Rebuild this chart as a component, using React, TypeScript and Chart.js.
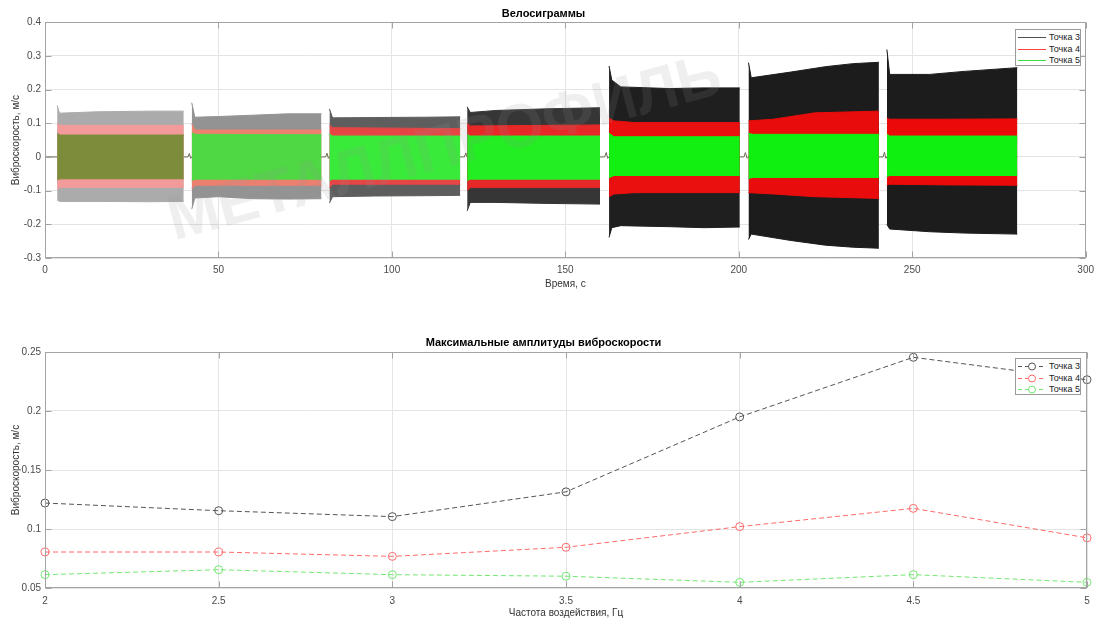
import React, { useEffect, useRef } from "react";
import { Chart, registerables } from "chart.js";

Chart.register(...registerables);

const FONT = "'Liberation Sans', Arial, Helvetica, sans-serif";
const GRID = "#e4e4e4";
const FRAME = "#a3a3a3";
const TICK_COLOR = "#4a4a4a";

// ---------- texts ----------
const TOP_TITLE = "Велосиграммы";
const TOP_X_TITLE = "Время, с";
const Y_TITLE = "Виброскорость, м/с";
const BOTTOM_TITLE = "Максимальные амплитуды виброскорости";
const BOTTOM_X_TITLE = "Частота воздействия, Гц";
const SERIES_NAMES = ["Точка 3", "Точка 4", "Точка 5"];
const WATERMARK = "МЕТАЛЛПРОФИЛЬ";

// ---------- top chart: envelopes of the velocigram per run, rows [t, upper, lower] ----------
const tochka3Envelope: number[][][] = [
  [[3.5, 0.153, -0.128], [4.2, 0.13, -0.132], [15, 0.134, -0.132], [30, 0.136, -0.133], [40.0, 0.136, -0.132]],
  [[42.3, 0.161, -0.155], [43.2, 0.118, -0.122], [50, 0.12, -0.118], [60, 0.124, -0.124], [70, 0.128, -0.125], [79.7, 0.128, -0.124]],
  [[82.0, 0.143, -0.137], [82.9, 0.116, -0.118], [95, 0.117, -0.116], [110, 0.118, -0.115], [119.7, 0.119, -0.114]],
  [[121.7, 0.149, -0.16], [122.6, 0.132, -0.135], [130, 0.138, -0.135], [145, 0.143, -0.138], [160.0, 0.146, -0.14]],
  [[162.6, 0.27, -0.239], [163.4, 0.228, -0.21], [166, 0.208, -0.204], [180, 0.203, -0.207], [190, 0.205, -0.21], [200.3, 0.205, -0.208]],
  [[202.8, 0.28, -0.245], [203.6, 0.235, -0.229], [215, 0.252, -0.248], [225, 0.268, -0.262], [233, 0.277, -0.268], [240.4, 0.281, -0.271]],
  [[242.7, 0.319, -0.2], [243.5, 0.245, -0.214], [255, 0.245, -0.222], [265, 0.254, -0.226], [280.3, 0.265, -0.229]],
];
const tochka4Envelope: number[][][] = [
  [[3.5, 0.1, -0.096], [4.3, 0.094, -0.09], [40.0, 0.094, -0.09]],
  [[42.3, 0.098, -0.095], [43.2, 0.08, -0.084], [79.7, 0.08, -0.084]],
  [[82.0, 0.095, -0.092], [82.9, 0.087, -0.081], [119.7, 0.084, -0.081]],
  [[121.7, 0.1, -0.1], [122.6, 0.092, -0.091], [160.0, 0.095, -0.091]],
  [[162.6, 0.115, -0.118], [164, 0.107, -0.11], [170, 0.102, -0.106], [200.3, 0.102, -0.106]],
  [[202.8, 0.107, -0.106], [210, 0.112, -0.11], [222, 0.131, -0.118], [240.4, 0.136, -0.123]],
  [[242.7, 0.115, -0.084], [243.5, 0.112, -0.081], [260, 0.112, -0.083], [280.3, 0.113, -0.084]],
];
const tochka5Envelope: number[][][] = [
  [[3.5, 0.07, -0.068], [4.3, 0.065, -0.065], [40.0, 0.065, -0.065]],
  [[42.3, 0.072, -0.07], [43.2, 0.067, -0.066], [79.7, 0.066, -0.066]],
  [[82.0, 0.068, -0.07], [82.9, 0.062, -0.066], [119.7, 0.062, -0.066]],
  [[121.7, 0.066, -0.07], [122.6, 0.062, -0.066], [160.0, 0.062, -0.066]],
  [[162.6, 0.07, -0.062], [164, 0.06, -0.055], [200.3, 0.06, -0.055]],
  [[202.8, 0.07, -0.064], [204, 0.067, -0.061], [240.4, 0.067, -0.061]],
  [[242.7, 0.068, -0.058], [243.5, 0.062, -0.055], [280.3, 0.062, -0.055]],
];
const tochka3Fills = ["#ababab", "#939393", "#5e5e5e", "#363636", "#1f1f1f", "#1c1c1c", "#1c1c1c"];
const tochka4Fills = ["#f39a9a", "#ec8070", "#e64545", "#e62828", "#ea1010", "#e80c0c", "#ea0a0a"];
const tochka5Fills = ["#7d8c3a", "#4fd844", "#3aea3a", "#22ee22", "#12f012", "#10f010", "#10f010"];

// signal between runs (rest line with small transients)
const restT = [0, 3.5, 40.0, 41.2, 41.6, 42.0, 42.3, 79.7, 80.9, 81.3, 81.7, 82.0, 119.7, 120.9, 121.3, 121.7, 160.0, 161.3, 161.8, 162.2, 162.6, 200.3, 201.5, 201.9, 202.4, 202.8, 240.4, 241.6, 242.0, 242.4, 242.7, 280.3];
const restV = [0, 0, 0, 0, 0.01, -0.004, 0, 0, 0, 0.011, -0.004, 0, 0, 0, 0.012, 0, 0, 0, 0.013, -0.004, 0, 0, 0, 0.013, -0.004, 0, 0, 0, 0.014, -0.004, 0, 0];

// ---------- bottom chart ----------
const freqs = [2, 2.5, 3, 3.5, 4, 4.5, 5];
const amp3 = [0.122, 0.1155, 0.1105, 0.1315, 0.195, 0.2455, 0.2265];
const amp4 = [0.0805, 0.0805, 0.0768, 0.0845, 0.102, 0.1175, 0.0925];
const amp5 = [0.0613, 0.0655, 0.0613, 0.06, 0.0548, 0.0613, 0.0548];

const LEGEND_TOP_COLORS = ["#4d4d4d", "#ff4040", "#40e040"];
const LEGEND_BOTTOM_COLORS = ["#555555", "#ff6a6a", "#72e872"];

const fmt = (v: number) => String(Math.round(v * 1000) / 1000);

const framePlugin = {
  id: "frame",
  afterDraw(chart: any) {
    const { ctx, chartArea: a } = chart;
    ctx.save();
    ctx.strokeStyle = FRAME;
    ctx.lineWidth = 1;
    const l = Math.round(a.left) + 0.5, t = Math.round(a.top) + 0.5;
    const r = Math.round(a.right) - 0.5, b = Math.round(a.bottom) - 0.5;
    ctx.strokeRect(l, t, r - l, b - t);
    ctx.beginPath();
    const xs = chart.scales.x, ys = chart.scales.y;
    xs.ticks.forEach((tk: any) => {
      const p = Math.round(xs.getPixelForValue(tk.value)) + 0.5;
      ctx.moveTo(p, b); ctx.lineTo(p, b - 6);
      ctx.moveTo(p, t); ctx.lineTo(p, t + 6);
    });
    ys.ticks.forEach((tk: any) => {
      const p = Math.round(ys.getPixelForValue(tk.value)) + 0.5;
      ctx.moveTo(l, p); ctx.lineTo(l + 6, p);
      ctx.moveTo(r, p); ctx.lineTo(r - 6, p);
    });
    ctx.stroke();
    ctx.restore();
  },
};

const watermarkPlugin = {
  id: "watermark",
  afterDatasetsDraw(chart: any) {
    const ctx = chart.ctx;
    ctx.save();
    ctx.translate(445, 150);
    ctx.rotate((-15 * Math.PI) / 180);
    ctx.font = `bold 62px ${FONT}`;
    ctx.fillStyle = "rgba(150,150,150,0.15)";
    ctx.textAlign = "center";
    ctx.textBaseline = "middle";
    ctx.fillText(WATERMARK, 0, 0, 570);
    ctx.restore();
  },
};

function axisFont() {
  return { family: FONT, size: 10 };
}

function buildTopDatasets() {
  const series = [
    { env: tochka3Envelope, fills: tochka3Fills, order: 3 },
    { env: tochka4Envelope, fills: tochka4Fills, order: 2 },
    { env: tochka5Envelope, fills: tochka5Fills, order: 1 },
  ];
  const ds: any[] = [];
  ds.push({
    data: restT.map((t, i) => ({ x: t, y: restV[i] })),
    borderColor: "#6b6b50",
    borderWidth: 1,
    pointRadius: 0,
    fill: false,
    order: 4,
  });
  series.forEach((s) => {
    s.env.forEach((seg, i) => {
      ds.push({
        data: seg.map((r) => ({ x: r[0], y: r[1] })),
        borderColor: s.fills[i],
        backgroundColor: s.fills[i],
        borderWidth: 1,
        pointRadius: 0,
        fill: "+1",
        order: s.order,
      });
      ds.push({
        data: seg.map((r) => ({ x: r[0], y: r[2] })),
        borderColor: s.fills[i],
        backgroundColor: s.fills[i],
        borderWidth: 1,
        pointRadius: 0,
        fill: false,
        order: s.order,
      });
    });
  });
  return ds;
}

function buildBottomDatasets() {
  return [amp3, amp4, amp5].map((arr, k) => ({
    label: SERIES_NAMES[k],
    data: freqs.map((f, i) => ({ x: f, y: arr[i] })),
    borderColor: LEGEND_BOTTOM_COLORS[k],
    borderDash: [5, 3],
    borderWidth: 1,
    pointRadius: 4,
    pointStyle: "circle",
    pointBorderColor: LEGEND_BOTTOM_COLORS[k],
    pointBackgroundColor: "rgba(0,0,0,0)",
    pointBorderWidth: 1,
    fill: false,
    clip: false,
    order: k,
  }));
}

function scales(opts: any) {
  return {
    x: {
      type: "linear",
      min: opts.xmin,
      max: opts.xmax,
      ticks: { stepSize: opts.xstep, padding: opts.xTickPad, font: axisFont(), color: TICK_COLOR, maxRotation: 0, callback: fmt },
      grid: { color: GRID, drawTicks: false },
      border: { display: false },
      title: { display: true, text: opts.xTitle, font: axisFont(), color: "#333", padding: { top: 0, bottom: opts.xTitlePadBottom } },
      afterFit: (s: any) => { s.height = opts.xHeight; },
    },
    y: {
      type: "linear",
      min: opts.ymin,
      max: opts.ymax,
      ticks: { stepSize: opts.ystep, padding: 4, font: axisFont(), color: TICK_COLOR, callback: fmt },
      grid: { color: GRID, drawTicks: false },
      border: { display: false },
      title: { display: true, text: Y_TITLE, font: axisFont(), color: "#333", padding: { top: 10, bottom: 0 } },
      afterFit: (s: any) => { s.width = 45; },
    },
  };
}

function Legend(props: { top: number; markers: boolean; colors: string[] }) {
  const { top, markers, colors } = props;
  return (
    <div
      style={{
        position: "absolute",
        left: 1015,
        top,
        width: 66,
        height: 37,
        border: "1px solid #9a9a9a",
        background: "#fff",
        boxSizing: "border-box",
        fontFamily: FONT,
        fontSize: 9,
        color: "#222",
      }}
    >
      {SERIES_NAMES.map((n, i) => (
        <div key={n} style={{ position: "absolute", left: 0, top: 1 + i * 11.7, height: 12, width: 64 }}>
          <svg width={28} height={12} style={{ position: "absolute", left: 2, top: 0 }}>
            <line
              x1={0}
              y1={6.5}
              x2={28}
              y2={6.5}
              stroke={colors[i]}
              strokeWidth={1}
              strokeDasharray={markers ? "4,3" : undefined}
            />
            {markers && <circle cx={14} cy={6.5} r={3.5} fill="#fff" stroke={colors[i]} strokeWidth={1} />}
          </svg>
          <span style={{ position: "absolute", left: 33, top: 0, lineHeight: "12px", whiteSpace: "nowrap" }}>{n}</span>
        </div>
      ))}
    </div>
  );
}

export default function App() {
  const topRef = useRef<HTMLCanvasElement>(null);
  const botRef = useRef<HTMLCanvasElement>(null);

  useEffect(() => {
    const top = new Chart(topRef.current as HTMLCanvasElement, {
      type: "line",
      data: { datasets: buildTopDatasets() },
      options: {
        animation: false,
        responsive: false,
        events: [],
        layout: { padding: { left: 0, right: 13, top: 0, bottom: 0 } },
        plugins: {
          legend: { display: false },
          tooltip: { enabled: false },
          title: {
            display: true,
            text: TOP_TITLE,
            font: { family: FONT, size: 11, weight: "bold" },
            color: "#000",
            padding: { top: 7.5, bottom: 1.5 },
          },
        },
        scales: scales({
          xmin: 0, xmax: 300, xstep: 50, ymin: -0.3, ymax: 0.4, ystep: 0.1,
          xTitle: TOP_X_TITLE, xTickPad: 6, xTitlePadBottom: 10, xHeight: 42,
        }),
      } as any,
      plugins: [watermarkPlugin, framePlugin],
    });

    const bot = new Chart(botRef.current as HTMLCanvasElement, {
      type: "line",
      data: { datasets: buildBottomDatasets() as any },
      options: {
        animation: false,
        responsive: false,
        events: [],
        layout: { padding: { left: 0, right: 13, top: 0, bottom: 0 } },
        plugins: {
          legend: { display: false },
          tooltip: { enabled: false },
          title: {
            display: true,
            text: BOTTOM_TITLE,
            font: { family: FONT, size: 11, weight: "bold" },
            color: "#000",
            padding: { top: 36.4, bottom: 2.4 },
          },
        },
        scales: scales({
          xmin: 2, xmax: 5, xstep: 0.5, ymin: 0.05, ymax: 0.25, ystep: 0.05,
          xTitle: BOTTOM_X_TITLE, xTickPad: 7, xTitlePadBottom: 3, xHeight: 34,
        }),
      } as any,
      plugins: [framePlugin],
    });

    return () => {
      top.destroy();
      bot.destroy();
    };
  }, []);

  return (
    <div style={{ position: "absolute", left: 0, top: 0, width: 1100, height: 622, background: "#fff", overflow: "hidden" }}>
      <canvas ref={topRef} width={1100} height={300} style={{ position: "absolute", left: 0, top: 0, width: 1100, height: 300 }} />
      <canvas ref={botRef} width={1100} height={322} style={{ position: "absolute", left: 0, top: 300, width: 1100, height: 322 }} />
      <Legend top={29} markers={false} colors={LEGEND_TOP_COLORS} />
      <Legend top={358} markers={true} colors={LEGEND_BOTTOM_COLORS} />
    </div>
  );
}
